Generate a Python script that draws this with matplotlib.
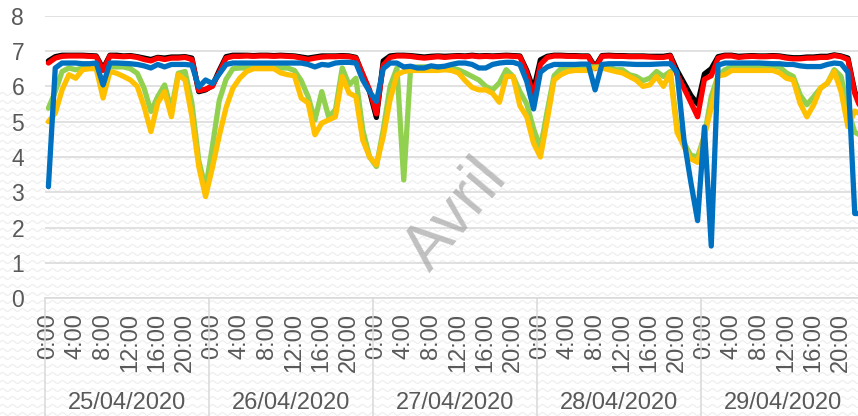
import numpy as np
import matplotlib
matplotlib.use('Agg')
import matplotlib.pyplot as plt
import matplotlib.transforms as mtransforms

plt.rcParams['font.family'] = ['Liberation Sans', 'DejaVu Sans']

days = ['25/04/2020', '26/04/2020', '27/04/2020', '28/04/2020', '29/04/2020']
hour_labels = ['0:00', '4:00', '8:00', '12:00', '16:00', '20:00']

# hourly values, 5 days x 24 h
black = [6.72, 6.84, 6.88, 6.88, 6.88, 6.88, 6.87, 6.86, 6.5, 6.88, 6.88, 6.86, 6.87, 6.84, 6.8, 6.76, 6.82, 6.8, 6.83, 6.83, 6.84, 6.8, 5.85, 5.9,
         6.02, 6.45, 6.84, 6.88, 6.88, 6.88, 6.87, 6.88, 6.88, 6.87, 6.88, 6.87, 6.86, 6.83, 6.8, 6.83, 6.86, 6.86, 6.86, 6.87, 6.86, 6.82, 6.33, 5.85,
         5.12, 6.72, 6.86, 6.88, 6.88, 6.87, 6.85, 6.83, 6.85, 6.86, 6.85, 6.86, 6.87, 6.86, 6.88, 6.86, 6.87, 6.86, 6.87, 6.88, 6.87, 6.86, 6.45, 5.9,
         6.75, 6.85, 6.88, 6.88, 6.87, 6.87, 6.86, 6.86, 6.55, 6.87, 6.88, 6.87, 6.87, 6.86, 6.86, 6.86, 6.85, 6.85, 6.85, 6.88, 6.45, 6.1, 5.75, 5.5,
         6.35, 6.5, 6.84, 6.88, 6.88, 6.85, 6.86, 6.87, 6.86, 6.86, 6.87, 6.86, 6.83, 6.81, 6.81, 6.83, 6.83, 6.85, 6.85, 6.89, 6.86, 6.8, 5.85, 5.4]
red = [6.66, 6.8, 6.85, 6.86, 6.86, 6.86, 6.85, 6.84, 6.45, 6.86, 6.85, 6.84, 6.85, 6.82, 6.76, 6.72, 6.8, 6.76, 6.8, 6.8, 6.82, 6.76, 5.88, 5.92,
       6.0, 6.4, 6.8, 6.85, 6.85, 6.86, 6.85, 6.86, 6.86, 6.85, 6.86, 6.85, 6.84, 6.8, 6.76, 6.8, 6.83, 6.84, 6.84, 6.85, 6.84, 6.8, 6.35, 5.9,
       5.22, 6.6, 6.82, 6.86, 6.86, 6.85, 6.82, 6.8, 6.82, 6.84, 6.82, 6.84, 6.85, 6.84, 6.86, 6.84, 6.85, 6.84, 6.85, 6.86, 6.85, 6.84, 6.4, 5.7,
       6.62, 6.82, 6.86, 6.86, 6.85, 6.85, 6.84, 6.84, 6.5, 6.85, 6.86, 6.85, 6.85, 6.84, 6.84, 6.84, 6.83, 6.82, 6.82, 6.86, 6.33, 5.95, 5.55, 5.14,
       6.2, 6.3, 6.8, 6.86, 6.86, 6.82, 6.84, 6.85, 6.84, 6.84, 6.85, 6.84, 6.8, 6.78, 6.78, 6.8, 6.8, 6.82, 6.82, 6.87, 6.84, 6.76, 5.8, 5.3]
green = [5.38, 5.85, 6.42, 6.52, 6.47, 6.52, 6.52, 6.52, 6.05, 6.55, 6.55, 6.55, 6.5, 6.37, 5.95, 5.29, 5.71, 6.04, 5.33, 6.37, 6.42, 5.52, 3.9, 3.1,
         4.3, 5.6, 6.2, 6.5, 6.52, 6.52, 6.52, 6.52, 6.52, 6.52, 6.52, 6.52, 6.45, 6.16, 5.71, 5.05, 5.85, 5.14, 5.33, 6.52, 6.04, 6.23, 4.77, 4.0,
         3.73, 4.77, 6.0, 6.52, 3.35, 6.52, 6.55, 6.55, 6.55, 6.55, 6.55, 6.52, 6.47, 6.38, 6.28, 6.18, 6.0, 5.9, 6.1, 6.47, 6.28, 5.85, 5.5, 4.8,
         4.25, 5.3, 6.3, 6.5, 6.55, 6.55, 6.55, 6.55, 6.55, 6.55, 6.55, 6.47, 6.47, 6.33, 6.28, 6.16, 6.23, 6.42, 6.28, 6.42, 4.86, 4.4, 4.05, 4.0,
         4.6, 5.71, 6.3, 6.47, 6.55, 6.55, 6.55, 6.55, 6.55, 6.55, 6.55, 6.55, 6.38, 6.28, 5.76, 5.48, 5.71, 5.95, 6.09, 6.47, 6.28, 5.33, 4.7, 4.6]
orange = [5.0, 5.24, 5.9, 6.33, 6.23, 6.47, 6.5, 6.5, 5.67, 6.42, 6.37, 6.28, 6.18, 6.0, 5.43, 4.72, 5.53, 5.85, 5.14, 6.33, 6.18, 5.14, 3.73, 2.88,
          3.7, 4.6, 5.4, 5.95, 6.23, 6.42, 6.5, 6.5, 6.5, 6.5, 6.38, 6.33, 6.3, 5.67, 5.53, 4.63, 4.96, 5.05, 5.14, 6.28, 5.81, 5.71, 4.48, 4.0,
          3.78, 4.58, 5.62, 6.33, 6.42, 6.45, 6.45, 6.45, 6.45, 6.45, 6.47, 6.45, 6.38, 6.16, 5.97, 5.9, 5.9, 5.8, 5.55, 6.28, 6.28, 5.45, 5.14, 4.39,
          4.0, 5.05, 6.18, 6.33, 6.42, 6.45, 6.45, 6.45, 6.52, 6.52, 6.47, 6.42, 6.38, 6.28, 6.18, 6.0, 6.04, 6.28, 6.0, 6.38, 4.7, 4.3, 3.95, 3.85,
          4.6, 5.4, 6.3, 6.33, 6.45, 6.45, 6.45, 6.45, 6.45, 6.45, 6.45, 6.38, 6.23, 6.18, 5.52, 5.14, 5.48, 5.95, 6.09, 6.42, 5.85, 4.86, 5.3, 5.2]
blue = [3.16, 6.52, 6.66, 6.66, 6.66, 6.64, 6.64, 6.66, 6.04, 6.66, 6.66, 6.65, 6.64, 6.62, 6.58, 6.52, 6.62, 6.55, 6.62, 6.62, 6.62, 6.6, 5.98, 6.18,
        6.08, 6.35, 6.62, 6.66, 6.66, 6.66, 6.66, 6.66, 6.66, 6.66, 6.66, 6.66, 6.66, 6.66, 6.62, 6.55, 6.62, 6.6, 6.66, 6.68, 6.68, 6.66, 6.18, 5.85,
        5.57, 6.5, 6.66, 6.66, 6.55, 6.57, 6.52, 6.52, 6.58, 6.55, 6.57, 6.62, 6.66, 6.66, 6.62, 6.52, 6.52, 6.62, 6.66, 6.68, 6.68, 6.62, 6.14, 5.36,
        6.4, 6.55, 6.62, 6.62, 6.62, 6.62, 6.63, 6.63, 5.9, 6.62, 6.64, 6.64, 6.64, 6.63, 6.62, 6.62, 6.62, 6.63, 6.64, 6.64, 6.4, 4.5, 3.3, 2.2,
        4.85, 1.48, 6.6, 6.66, 6.66, 6.66, 6.66, 6.66, 6.66, 6.65, 6.64, 6.64, 6.62, 6.62, 6.58, 6.56, 6.56, 6.56, 6.62, 6.66, 6.64, 6.4, 2.4, 2.4]

series = [(black, '#000000'), (red, '#ff0000'), (green, '#92d050'),
          (orange, '#ffc000'), (blue, '#0070c0')]

W, H = 858, 416
fig = plt.figure(figsize=(W / 100, H / 100), dpi=100)

# faint wavy background texture in the lower part of the picture
wave_x = np.linspace(0, 1, 600)
for yy in np.arange(2, 330, 8):
    fig.add_artist(plt.Line2D(wave_x, (yy + 1.5 * np.sin(wave_x * W * 2 * np.pi / 10)) / H,
                              color='#ededed', lw=0.8, zorder=0))

n = len(red)
x = np.arange(n)
ax = fig.add_axes([45 / W, (H - 298.3) / H, 820 / W, 282.6 / H])
ax.patch.set_alpha(0)
for vals, col in series:
    ax.plot(x, vals, color=col, lw=3.8, solid_joinstyle='round', solid_capstyle='round', zorder=3)

ax.set_xlim(-0.5, n - 0.5)
ax.set_ylim(0, 8)
ax.set_yticks(range(0, 9))
ax.grid(axis='y', color='#d9d9d9', lw=1.1)
ax.set_axisbelow(True)
for s in ['top', 'right', 'left']:
    ax.spines[s].set_visible(False)
ax.spines['bottom'].set_color('#d9d9d9')
ax.spines['bottom'].set_linewidth(1.1)

ax.set_xticks(range(0, n, 4))
ax.set_xticklabels(hour_labels * len(days), rotation=90)
ax.tick_params(axis='x', length=0, pad=10.5, labelsize=17, labelcolor='#595959')
ax.tick_params(axis='y', length=0, pad=15, labelsize=16.5, labelcolor='#595959')

# day separators and date labels under the hour labels
trans = mtransforms.blended_transform_factory(ax.transData, ax.transAxes)
for d, day in enumerate(days):
    ax.plot([d * 24 - 0.5, d * 24 - 0.5], [0, -0.45], color='#d9d9d9', lw=1.1,
            transform=trans, clip_on=False)
    ax.text(d * 24 + 11.5, -0.37, day, transform=trans, ha='center', va='center',
            fontsize=17, color='#595959')

fig.text(456 / W, 1 - 215 / H, 'Avril', rotation=50, fontsize=46, color='#a6a6a6',
         alpha=0.7, ha='center', va='center', rotation_mode='anchor', zorder=5)

fig.savefig('out.png', dpi=100)
